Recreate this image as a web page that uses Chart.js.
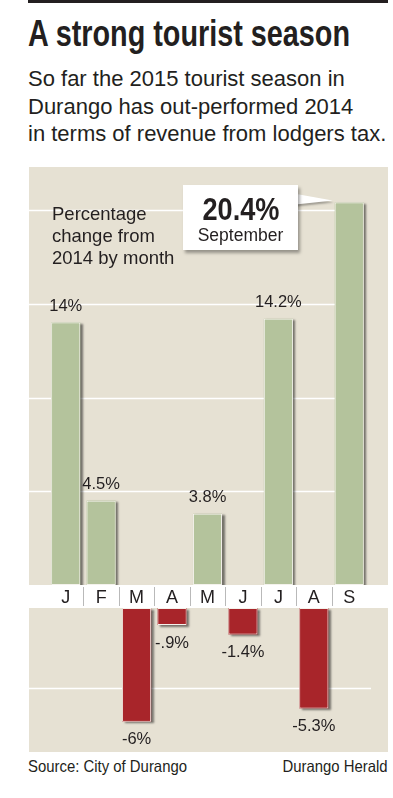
<!DOCTYPE html>
<html>
<head>
<meta charset="utf-8">
<script src="https://cdn.jsdelivr.net/npm/chart.js@4.4.1/dist/chart.umd.min.js"></script>
<style>
  html, body { margin: 0; padding: 0; background: #fff; }
  body { width: 393px; height: 798px; position: relative; overflow: hidden; font-family: 'Liberation Sans', Arial, sans-serif; color: #231f20; }
  .rule { position: absolute; left: 28px; top: 0; width: 360px; height: 3px; background: #231f20; }
  .title { position: absolute; left: 28px; top: 16px; font: bold 36px/36px 'Liberation Sans', Arial, sans-serif; white-space: nowrap; transform-origin: left top; }
  .intro { position: absolute; left: 28px; top: 65px; font-size: 22px; line-height: 27.5px; white-space: nowrap; }
  canvas { position: absolute; left: 29px; }
  #chartPos { top: 167px; }
  #chartNeg { top: 608px; background: #e6e1d3; }
  .note { position: absolute; left: 52px; top: 203px; font-size: 18.5px; line-height: 22px; white-space: nowrap; }
  .callout { position: absolute; left: 183px; top: 185px; width: 115px; height: 65px; background: #fff; box-shadow: 2px 3px 3px rgba(0,0,0,0.35); text-align: center; }
  .callout .big { display: inline-block; font: bold 31px/31px 'Liberation Sans', Arial, sans-serif; margin-top: 9px; transform-origin: center top; white-space: nowrap; }
  .callout .small { font-size: 17.5px; line-height: 20px; margin-top: 0; }
  .foot { position: absolute; top: 757px; font: 16.5px/18px 'Liberation Sans', Arial, sans-serif; white-space: nowrap; }
  #footL { left: 28px; transform-origin: left top; }
  #footR { right: 6px; transform-origin: right top; }
</style>
</head>
<body>
<div class="rule"></div>
<div class="title" id="title">A strong tourist season</div>
<div class="intro">So far the 2015 tourist season in<br>Durango has out-performed 2014<br>in terms of revenue from lodgers tax.</div>

<canvas id="chartPos" width="359" height="441"></canvas>
<canvas id="chartNeg" width="359" height="144"></canvas>

<div class="note">Percentage<br>change from<br>2014 by month</div>
<div class="callout"><div class="big" id="calloutValue"></div><div class="small" id="calloutName"></div></div>

<div class="foot" id="footL">Source: City of Durango</div>
<div class="foot" id="footR">Durango Herald</div>

<script>
  'use strict';

  // Données : variation en % par rapport à 2014
  var months = ['J', 'F', 'M', 'A', 'M', 'J', 'J', 'A', 'S'];
  var changes = [14, 4.5, -6, -0.9, 3.8, -1.4, 14.2, -5.3, 20.4];
  var posGridLines = [5, 10, 15, 20];
  var negGridLines = [-4.2];
  var calloutIndex = 8;
  var calloutName = 'September';

  var BEIGE = '#e6e1d3';
  var GREEN = '#b4c39c';
  var RED = '#a8252a';
  var TEXT = '#231f20';

  var posValues = changes.map(function (v) { return v >= 0 ? v : null; });
  var negValues = changes.map(function (v) { return v < 0 ? v : null; });

  function fmt(v) {
    return String(v).replace(/^(-?)0\./, '$1.') + '%';
  }

  // condense un texte pour qu'il tienne dans la largeur voulue
  function squeeze(id, width) {
    var el = document.getElementById(id);
    var w = el.getBoundingClientRect().width;
    if (w > 0) el.style.transform = 'scaleX(' + (width / w) + ')';
  }

  document.getElementById('calloutValue').textContent = fmt(changes[calloutIndex]);
  document.getElementById('calloutName').textContent = calloutName;

  squeeze('title', 322);
  squeeze('calloutValue', 77);
  squeeze('footL', 159);
  squeeze('footR', 105);

  // ====================================
  // PLUGIN : fond, grille, ombres, étiquettes
  // ====================================
  var decorPlugin = {
    id: 'decor',
    beforeDraw: function (chart, args, opts) {
      var ctx = chart.ctx;
      var area = chart.chartArea;
      if (opts.panel) {
        ctx.save();
        ctx.fillStyle = BEIGE;
        ctx.fillRect(0, 0, chart.width, area.bottom);
        ctx.restore();
      }
    },
    beforeDatasetsDraw: function (chart, args, opts) {
      var ctx = chart.ctx;
      var area = chart.chartArea;
      var yScale = chart.scales.y;
      var xScale = chart.scales.x;
      var meta = chart.getDatasetMeta(0);

      // lignes de grille blanches
      ctx.save();
      ctx.strokeStyle = '#ffffff';
      ctx.lineWidth = 1.5;
      var right = opts.gridRight === 'last' ? xScale.getPixelForValue(months.length - 1) : area.right + 4;
      opts.grid.forEach(function (g) {
        var y = Math.round(yScale.getPixelForValue(g)) + 0.5;
        ctx.beginPath();
        ctx.moveTo(0, y);
        ctx.lineTo(right, y);
        ctx.stroke();
      });
      ctx.restore();

      // ombres portées
      ctx.save();
      ctx.beginPath();
      ctx.rect(0, area.top, chart.width, area.bottom - area.top);
      ctx.clip();
      ctx.shadowColor = 'rgba(0,0,0,0.5)';
      ctx.shadowBlur = 2;
      ctx.shadowOffsetX = 2.5;
      ctx.shadowOffsetY = 1.5;
      ctx.fillStyle = opts.color;
      meta.data.forEach(function (el, i) {
        if (chart.data.datasets[0].data[i] === null) return;
        var top = Math.min(el.y, el.base);
        var h = Math.abs(el.base - el.y);
        ctx.fillRect(el.x - el.width / 2, top, el.width, h);
      });
      ctx.restore();
    },
    afterDatasetsDraw: function (chart, args, opts) {
      var ctx = chart.ctx;
      var meta = chart.getDatasetMeta(0);
      var data = chart.data.datasets[0].data;
      ctx.save();
      ctx.fillStyle = TEXT;
      ctx.font = '16.5px "Liberation Sans", Arial, sans-serif';
      ctx.textAlign = 'center';
      ctx.textBaseline = 'middle';
      meta.data.forEach(function (el, i) {
        var v = data[i];
        if (v === null || i === calloutIndex) return;
        var y = v >= 0 ? el.y - 16 : el.y + 18;
        ctx.fillText(fmt(v), el.x, y);
      });
      ctx.restore();
    },
    afterDraw: function (chart, args, opts) {
      if (!opts.panel) return;
      var ctx = chart.ctx;
      var area = chart.chartArea;
      var xScale = chart.scales.x;

      // séparateurs de mois
      ctx.save();
      ctx.strokeStyle = '#b9b9b9';
      ctx.lineWidth = 1;
      for (var i = 1; i < months.length; i++) {
        var x = Math.round((xScale.getPixelForValue(i - 1) + xScale.getPixelForValue(i)) / 2) + 0.5;
        ctx.beginPath();
        ctx.moveTo(x, area.bottom + 2);
        ctx.lineTo(x, area.bottom + 21);
        ctx.stroke();
      }
      ctx.restore();

      // pointe de la bulle vers la barre de septembre
      var bar = chart.getDatasetMeta(0).data[calloutIndex];
      ctx.save();
      ctx.shadowColor = 'rgba(0,0,0,0.3)';
      ctx.shadowBlur = 2;
      ctx.shadowOffsetX = 1;
      ctx.shadowOffsetY = 2;
      ctx.fillStyle = '#ffffff';
      ctx.beginPath();
      ctx.moveTo(262, 26);
      ctx.lineTo(bar.x - bar.width / 2 - 2, bar.y - 2);
      ctx.lineTo(262, 38);
      ctx.closePath();
      ctx.fill();
      ctx.restore();
    }
  };

  Chart.defaults.font.family = '"Liberation Sans", Arial, sans-serif';
  Chart.defaults.color = TEXT;

  function barDataset(values, color) {
    return {
      data: values,
      backgroundColor: color,
      borderColor: '#f4f2ec',
      borderWidth: 1,
      borderSkipped: false,
      categoryPercentage: 1,
      barPercentage: 0.82
    };
  }

  // --- Barres positives + axe des mois ---
  new Chart(document.getElementById('chartPos').getContext('2d'), {
    type: 'bar',
    data: { labels: months, datasets: [barDataset(posValues, GREEN)] },
    options: {
      responsive: false,
      animation: false,
      devicePixelRatio: 1,
      layout: { padding: { left: 19, right: 21, top: 0, bottom: 0 } },
      plugins: {
        legend: { display: false },
        tooltip: { enabled: false },
        decor: { panel: true, grid: posGridLines, gridRight: 'last', color: GREEN }
      },
      scales: {
        x: {
          position: 'bottom',
          grid: { display: false, drawTicks: false },
          border: { display: false },
          ticks: { color: TEXT, font: { size: 18, lineHeight: 1 }, padding: 4, maxRotation: 0 },
          afterFit: function (scale) { scale.height = 23; }
        },
        y: { display: false, min: 0, max: 22.3 }
      }
    },
    plugins: [decorPlugin]
  });

  // --- Barres négatives ---
  new Chart(document.getElementById('chartNeg').getContext('2d'), {
    type: 'bar',
    data: { labels: months, datasets: [barDataset(negValues, RED)] },
    options: {
      responsive: false,
      animation: false,
      devicePixelRatio: 1,
      layout: { padding: { left: 19, right: 21, top: 0, bottom: 0 } },
      plugins: {
        legend: { display: false },
        tooltip: { enabled: false },
        decor: { panel: false, grid: negGridLines, gridRight: 'area', color: RED }
      },
      scales: {
        x: { display: false },
        y: { display: false, min: -7.6, max: 0 }
      }
    },
    plugins: [decorPlugin]
  });
</script>
</body>
</html>
